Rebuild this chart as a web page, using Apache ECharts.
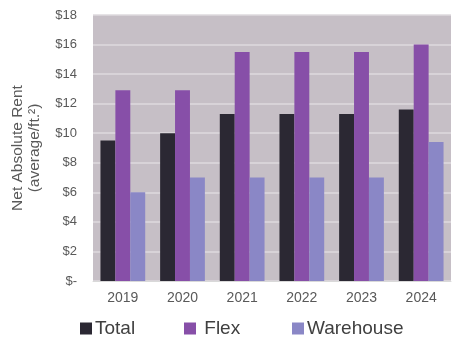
<!DOCTYPE html>
<html>
<head>
<meta charset="utf-8">
<script src="https://cdn.jsdelivr.net/npm/echarts@6/dist/echarts.min.js"></script>
<style>
  html, body { margin: 0; padding: 0; background: #ffffff; }
  #chart { width: 456px; height: 337px; }
</style>
</head>
<body>
<div id="chart"></div>
<script>
// Net absolute rent by year, $ per square foot
const years = ['2019', '2020', '2021', '2022', '2023', '2024'];
const totalRent = [9.5, 10.0, 11.3, 11.3, 11.3, 11.6];
const flexRent = [12.9, 12.9, 15.5, 15.5, 15.5, 16.0];
const warehouseRent = [6.0, 7.0, 7.0, 7.0, 7.0, 9.4];
const seriesNames = ['Total', 'Flex', 'Warehouse'];

const FONT = '"Liberation Sans", Arial, sans-serif';

const chart = echarts.init(document.getElementById('chart'), null, { renderer: 'canvas' });

// one legend block per series so each entry sits at its own spot
const legendLefts = [80, 184, 292];
const legends = seriesNames.map(function (name, i) {
  return {
    top: 319,
    left: legendLefts[i],
    padding: 0,
    itemWidth: 12,
    itemHeight: 12,
    icon: 'rect',
    textStyle: { fontSize: 19, color: '#404040', fontFamily: FONT, padding: [0, 0, 0, -2] },
    formatter: function (n) { return n === 'Flex' ? ' Flex' : n; },
    data: [name]
  };
});

chart.setOption({
  animation: false,
  textStyle: { fontFamily: FONT },
  grid: {
    left: 93, top: 15, width: 358, height: 266,
    show: true, backgroundColor: '#c6bfc6', borderWidth: 0
  },
  legend: legends,
  xAxis: {
    type: 'category',
    data: years,
    axisLine: { show: true, lineStyle: { color: '#d9d9d9', width: 1 } },
    axisTick: { show: false },
    axisLabel: { fontSize: 14, color: '#595959', margin: 10, fontFamily: FONT }
  },
  yAxis: {
    type: 'value',
    min: 0, max: 18, interval: 2,
    name: 'Net Absolute Rent\n(average/ft.²)',
    nameLocation: 'middle',
    nameRotate: 90,
    nameGap: 50,
    nameTextStyle: { fontSize: 15.5, color: '#595959', lineHeight: 17, fontFamily: FONT },
    axisLine: { show: false },
    axisTick: { show: false },
    splitLine: { lineStyle: { color: '#dedade', width: 1.5 } },
    axisLabel: {
      fontSize: 13, color: '#595959', margin: 16, fontFamily: FONT,
      formatter: function (v) { return v === 0 ? '$-' : '$' + v; }
    }
  },
  series: [
    { name: 'Total', type: 'bar', data: totalRent, barGap: '0%', barCategoryGap: '25%',
      itemStyle: { color: '#2b2833' } },
    { name: 'Flex', type: 'bar', data: flexRent, barGap: '0%', barCategoryGap: '25%',
      itemStyle: { color: '#874fa8' } },
    { name: 'Warehouse', type: 'bar', data: warehouseRent, barGap: '0%', barCategoryGap: '25%',
      itemStyle: { color: '#8a87c6' } }
  ]
});
</script>
</body>
</html>
